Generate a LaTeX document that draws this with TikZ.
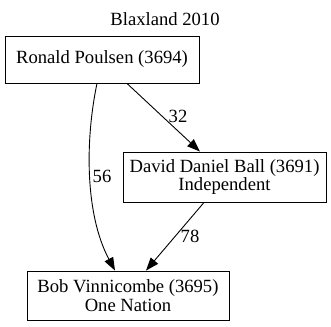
\documentclass[tikz,border=0pt]{standalone}
\usepackage{fontspec}
\setmainfont{Liberation Serif}
\usetikzlibrary{arrows.meta}
\begin{document}
\begin{tikzpicture}[x=1bp,y=-1bp,
  every node/.style={font=\fontsize{18.7}{19}\selectfont},
  person/.style={draw, line width=0.9bp, align=center, inner sep=0pt},
  vote/.style={line width=0.9bp, -{Triangle[length=13bp,width=9.5bp]}},
  count/.style={inner sep=1bp}]
\useasboundingbox (0,0) rectangle (331,327);
% title
\node (title) at (165,19) {Blaxland 2010};
% candidates
\node[person, minimum width=194bp, minimum height=47bp] (rp) at (102,59.5) {Ronald Poulsen (3694)};
\node[person, minimum width=203bp, minimum height=50bp] (db) at (224.5,177) {David Daniel Ball (3691)\\Independent};
\node[person, minimum width=202bp, minimum height=49bp] (bv) at (128,295.5) {Bob Vinnicombe (3695)\\One Nation};
% preference flows
\draw[vote] ([xshift=25bp]rp.south) -- ([xshift=-24.5bp]db.north);
\draw[vote] ([xshift=-5bp]rp.south) .. controls +(-12,57) and +(-30,-56) .. ([xshift=-13bp]bv.north);
\draw[vote] ([xshift=-20.5bp]db.south) -- ([xshift=18bp]bv.north);
% flow counts
\node[count] (c32) at (178,116) {32};
\node[count] (c56) at (102,176) {56};
\node[count] (c78) at (190,236) {78};
\end{tikzpicture}
\end{document}
